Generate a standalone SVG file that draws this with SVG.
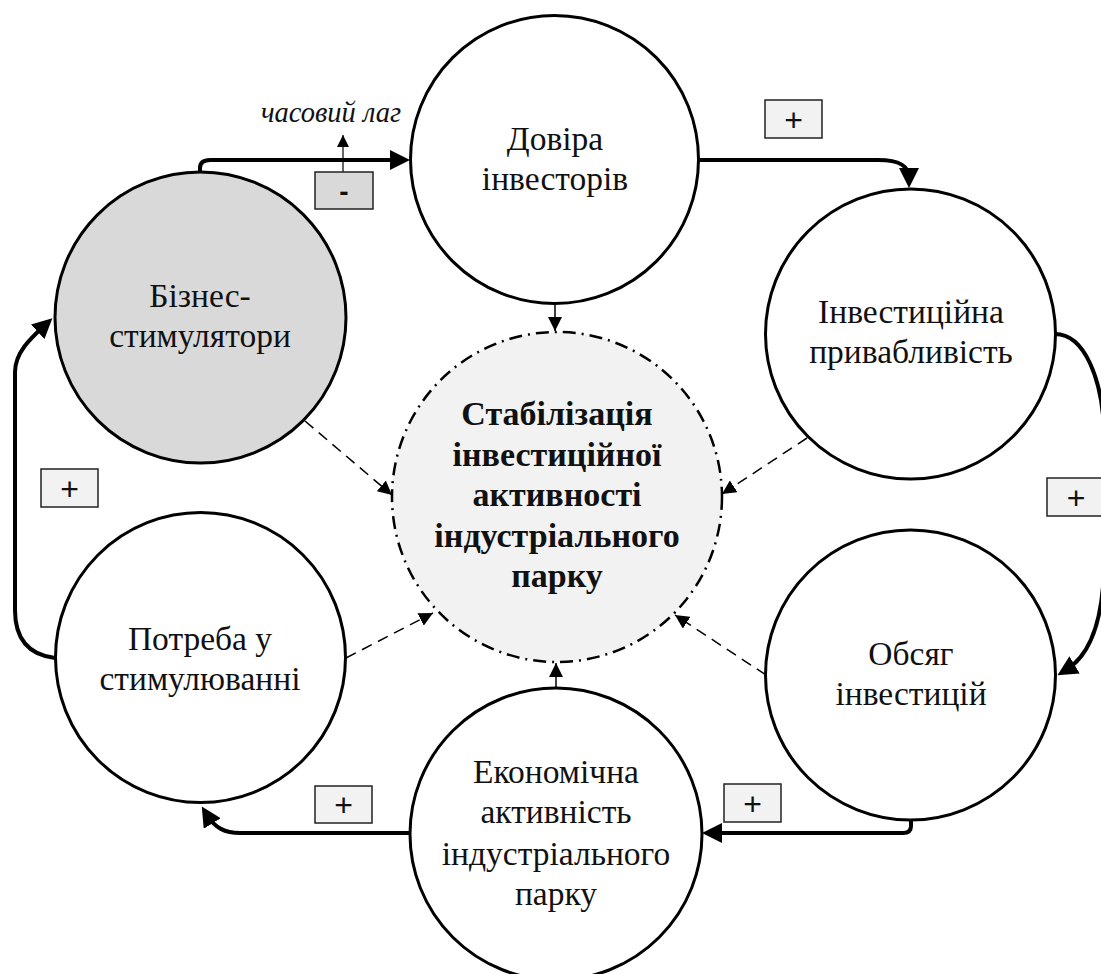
<svg xmlns="http://www.w3.org/2000/svg" width="1101" height="974" viewBox="0 0 1101 974">
<style>
.node{fill:#fff;stroke:#000;stroke-width:3}
.shaded{fill:#d9d9d9}
.core{fill:#f2f2f2;stroke:#000;stroke-width:2.5;stroke-dasharray:13 6 2 6}
.lbl{font-family:"Liberation Serif","Times New Roman",serif;font-size:33.5px;fill:#111;text-anchor:middle}
.bold{font-weight:bold;font-size:34px}
.thick{fill:none;stroke:#000;stroke-width:4;marker-end:url(#big)}
.thin{fill:none;stroke:#000;stroke-width:1.5;marker-end:url(#small)}
.dash{fill:none;stroke:#000;stroke-width:1.5;stroke-dasharray:11 7;marker-end:url(#small)}
.box{fill:#f2f2f2;stroke:#222;stroke-width:1.5}
.boxd{fill:#d9d9d9;stroke:#222;stroke-width:1.5}
.sign{font-family:"Liberation Sans",Arial,sans-serif;font-size:32px;fill:#111;text-anchor:middle}
.it{font-family:"Liberation Serif","Times New Roman",serif;font-style:italic;font-size:28.5px;fill:#111;text-anchor:middle}
</style>
<defs>
<marker id="big" viewBox="0 0 20 20" refX="10" refY="10" markerWidth="20" markerHeight="20" markerUnits="userSpaceOnUse" orient="auto">
<path d="M0,0 L20,10 L0,20 z" fill="#000"/>
</marker>
<marker id="small" viewBox="0 0 14 14" refX="14" refY="7" markerWidth="14" markerHeight="14" markerUnits="userSpaceOnUse" orient="auto">
<path d="M0,0 L14,7 L0,14 z" fill="#000"/>
</marker>
<marker id="tiny" viewBox="0 0 12 12" refX="12" refY="6" markerWidth="12" markerHeight="12" markerUnits="userSpaceOnUse" orient="auto">
<path d="M0,0 L12,6 L0,12 z" fill="#000"/>
</marker>
</defs>

<g id="connectors">
<path class="thick" d="M200,172 L200,168 Q200,160 210,160 L400,160"/>
<path class="thick" d="M698,160 L878,160 C900,160 909,166 909,178"/>
<path class="thick" d="M1055,334 C1085,334 1102,380 1104,430 L1104,570 C1102,630 1086,658 1066,670"/>
<path class="thick" d="M911,821 L911,826 Q911,833 903,833 L712,833"/>
<path class="thick" d="M410,833 L240,833 C225,833 215,828 207,815"/>
<path class="thick" d="M55,658 C30,655 15,640 15,610 L15,372 C15,352 32,337 45,325"/>
<path class="thin" d="M555,305 L555,331"/>
<path class="thin" d="M556,688 L556,663"/>
<path class="dash" d="M305,421 L392,495"/>
<path class="dash" d="M807,438 L722,494"/>
<path class="dash" d="M346,658 L433,613"/>
<path class="dash" d="M766,675 L675,615"/>
<path fill="none" stroke="#000" stroke-width="1.2" marker-end="url(#tiny)" d="M343,172 L343,135"/>
</g>

<g id="time-lag">
<text class="it" x="331" y="122">часовий лаг</text>
</g>

<g id="sign-minus">
<rect class="boxd" x="315" y="172" width="58" height="37"/>
<text x="344" y="201" font-family="Liberation Sans,Arial,sans-serif" font-size="28" font-weight="bold" text-anchor="middle" fill="#111">-</text>
</g>
<g id="sign-plus-1">
<rect class="box" x="765" y="100" width="57" height="38"/>
<text class="sign" x="793.5" y="131">+</text>
</g>
<g id="sign-plus-2">
<rect class="box" x="1047" y="478" width="57" height="38"/>
<text class="sign" x="1076" y="509">+</text>
</g>
<g id="sign-plus-3">
<rect class="box" x="724" y="784" width="57" height="38"/>
<text class="sign" x="752.5" y="815">+</text>
</g>
<g id="sign-plus-4">
<rect class="box" x="315" y="786" width="57" height="37"/>
<text class="sign" x="343.5" y="816">+</text>
</g>
<g id="sign-plus-5">
<rect class="box" x="41" y="469" width="57" height="38"/>
<text class="sign" x="69.5" y="500">+</text>
</g>

<g id="node-core">
<circle class="core" cx="557" cy="497" r="165"/>
<text class="lbl bold" x="557" y="425">Стабілізація</text>
<text class="lbl bold" x="557" y="466">інвестиційної</text>
<text class="lbl bold" x="557" y="506">активності</text>
<text class="lbl bold" x="557" y="547">індустріального</text>
<text class="lbl bold" x="557" y="587">парку</text>
</g>

<g id="node-trust">
<circle class="node" cx="554.5" cy="159.5" r="144"/>
<text class="lbl" x="555" y="150">Довіра</text>
<text class="lbl" x="555" y="190">інвесторів</text>
</g>

<g id="node-attract">
<circle class="node" cx="910.5" cy="334" r="145"/>
<text class="lbl" x="911" y="323">Інвестиційна</text>
<text class="lbl" x="911" y="363">привабливість</text>
</g>

<g id="node-volume">
<circle class="node" cx="910.5" cy="675" r="145"/>
<text class="lbl" x="911" y="665">Обсяг</text>
<text class="lbl" x="911" y="705">інвестицій</text>
</g>

<g id="node-econ">
<circle class="node" cx="556" cy="834" r="146"/>
<text class="lbl" x="556" y="783">Економічна</text>
<text class="lbl" x="556" y="823">активність</text>
<text class="lbl" x="556" y="865">індустріального</text>
<text class="lbl" x="556" y="905">парку</text>
</g>

<g id="node-need">
<circle class="node" cx="200.5" cy="657.5" r="145"/>
<text class="lbl" x="200" y="650">Потреба у</text>
<text class="lbl" x="200" y="690">стимулюванні</text>
</g>

<g id="node-business">
<circle class="node shaded" cx="200.5" cy="317.5" r="145.5"/>
<text class="lbl" x="200" y="307">Бізнес-</text>
<text class="lbl" x="200" y="347">стимулятори</text>
</g>
</svg>
